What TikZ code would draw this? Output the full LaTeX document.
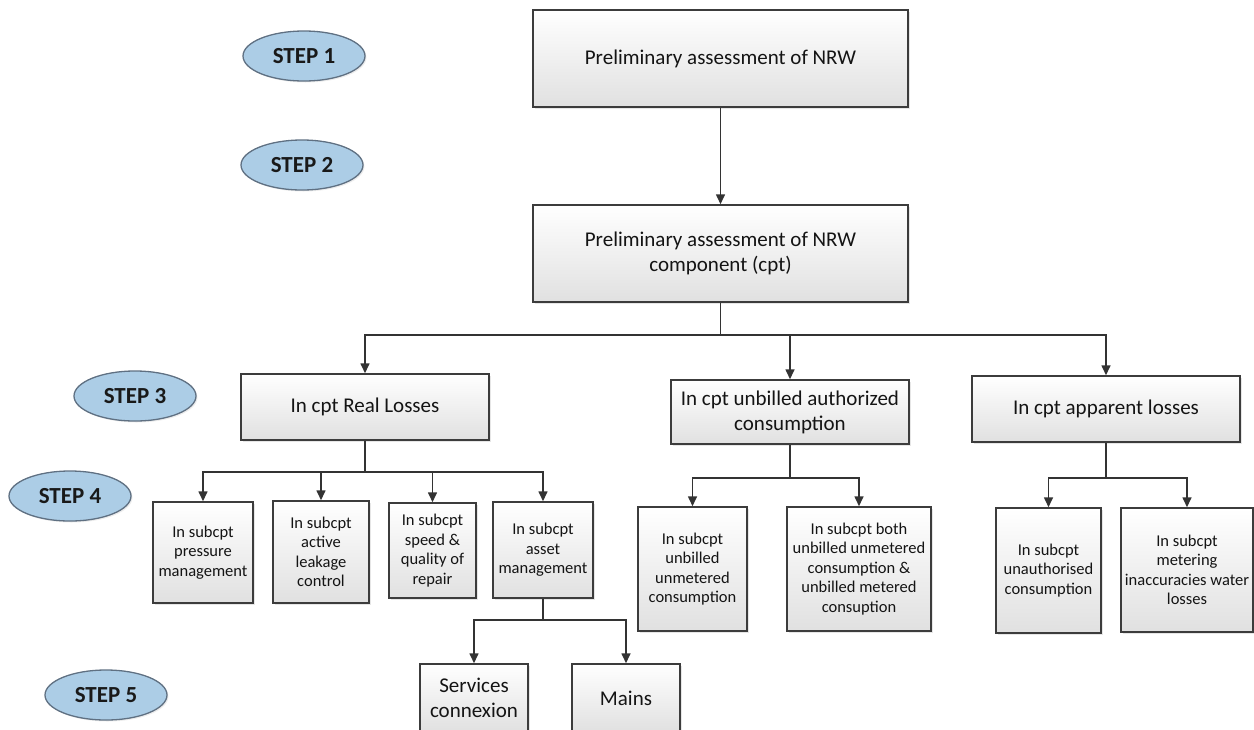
\documentclass[tikz,border=0pt]{standalone}
\usepackage{fontspec}
\setmainfont{Carlito}
\usetikzlibrary{arrows.meta,shapes.geometric,shadows}

\definecolor{stepblue}{RGB}{172,205,230}
\definecolor{stepedge}{RGB}{95,112,130}
\definecolor{boxedge}{RGB}{60,60,60}

\begin{document}
\begin{tikzpicture}[x=1pt, y=-1pt,
	stepoval/.style={ellipse, draw=stepedge, line width=1.3pt, fill=stepblue, minimum width=122pt, minimum height=50pt, inner sep=0pt, text=black!90, font=\fontsize{23}{26}\selectfont\bfseries, drop shadow={shadow xshift=1.5pt, shadow yshift=-1.5pt, opacity=0.15}},
	bigbox/.style={rectangle, draw=boxedge, line width=1.5pt, top color=white, bottom color=black!12, align=center, inner sep=2pt, text=black!92, font=\fontsize{21}{25}\selectfont, drop shadow={shadow xshift=2pt, shadow yshift=-2pt, opacity=0.2}},
	smallbox/.style={bigbox, font=\fontsize{16.5}{19.5}\selectfont},
	link/.style={line width=1.6pt, draw=black!80},
	arr/.style={link, -{Triangle[width=9pt,length=10pt]}}]
		\useasboundingbox (0,0) rectangle (1254,729);
		\clip (0,0) rectangle (1254,729);
		\node[stepoval] (s1) at (304,56) {STEP 1};
		\node[stepoval] (s2) at (302,165) {STEP 2};
		\node[stepoval] (s3) at (135,396) {STEP 3};
		\node[stepoval] (s4) at (70,496) {STEP 4};
		\node[stepoval] (s5) at (106,695) {STEP 5};
		\node[bigbox, minimum width=375pt, minimum height=97pt] (nrw) at (720.5,58.5) {Preliminary assessment of NRW};
		\node[bigbox, minimum width=375pt, minimum height=97pt] (cpt) at (720.5,253.5) {Preliminary assessment of NRW\\component (cpt)};
		\node[bigbox, minimum width=248pt, minimum height=66pt] (real) at (365,407) {In cpt Real Losses};
		\node[bigbox, minimum width=238pt, minimum height=64pt] (unbilled) at (790,412) {In cpt unbilled authorized\\consumption};
		\node[bigbox, minimum width=268pt, minimum height=66pt] (apparent) at (1106,409) {In cpt apparent losses};
		\node[smallbox, minimum width=100pt, minimum height=101pt] (press) at (203,552.5) {In subcpt\\pressure\\management};
		\node[smallbox, minimum width=96pt, minimum height=102pt] (leak) at (321,552) {In subcpt\\active\\leakage\\control};
		\node[smallbox, minimum width=87pt, minimum height=95pt] (repair) at (432.5,550.5) {In subcpt\\speed \&\\quality of\\repair};
		\node[smallbox, minimum width=100pt, minimum height=96pt] (asset) at (543,550) {In subcpt\\asset\\management};
		\node[smallbox, minimum width=109pt, minimum height=124pt] (unmet) at (692.5,569) {In subcpt\\unbilled\\unmetered\\consumption};
		\node[smallbox, minimum width=144pt, minimum height=124pt] (both) at (859,569) {In subcpt both\\unbilled unmetered\\consumption \&\\unbilled metered\\consuption};
		\node[smallbox, minimum width=105pt, minimum height=125pt] (unauth) at (1048.5,570.5) {In subcpt\\unauthorised\\consumption};
		\node[smallbox, minimum width=132pt, minimum height=124pt] (meter) at (1187,570) {In subcpt\\metering\\inaccuracies water\\losses};
		\node[bigbox, minimum width=108pt, minimum height=68pt] (serv) at (474,698) {Services\\connexion};
		\node[bigbox, minimum width=108pt, minimum height=68pt] (mains) at (626,698) {Mains};
		\coordinate (j1) at (720.5,335);
		\coordinate (j2) at (365,472);
		\coordinate (j3) at (790,478);
		\coordinate (j4) at (1106,478);
		\coordinate (j5) at (543,620);
		\draw[arr] (nrw) -- (cpt);
		\draw[link] (cpt) -- (j1);
		\draw[arr] (j1) -| (real.north);
		\draw[arr] (j1) -| (unbilled.north);
		\draw[arr] (j1) -| (apparent.north);
		\draw[link] (real) -- (j2);
		\draw[arr] (j2) -| (press.north);
		\draw[arr] (j2) -| (leak.north);
		\draw[arr] (j2) -| (repair.north);
		\draw[arr] (j2) -| (asset.north);
		\draw[link] (unbilled) -- (j3);
		\draw[arr] (j3) -| (unmet.north);
		\draw[arr] (j3) -| (both.north);
		\draw[link] (apparent) -- (j4);
		\draw[arr] (j4) -| (unauth.north);
		\draw[arr] (j4) -| (meter.north);
		\draw[link] (asset) -- (j5);
		\draw[arr] (j5) -| (serv.north);
		\draw[arr] (j5) -| (mains.north);
\end{tikzpicture}
\end{document}
